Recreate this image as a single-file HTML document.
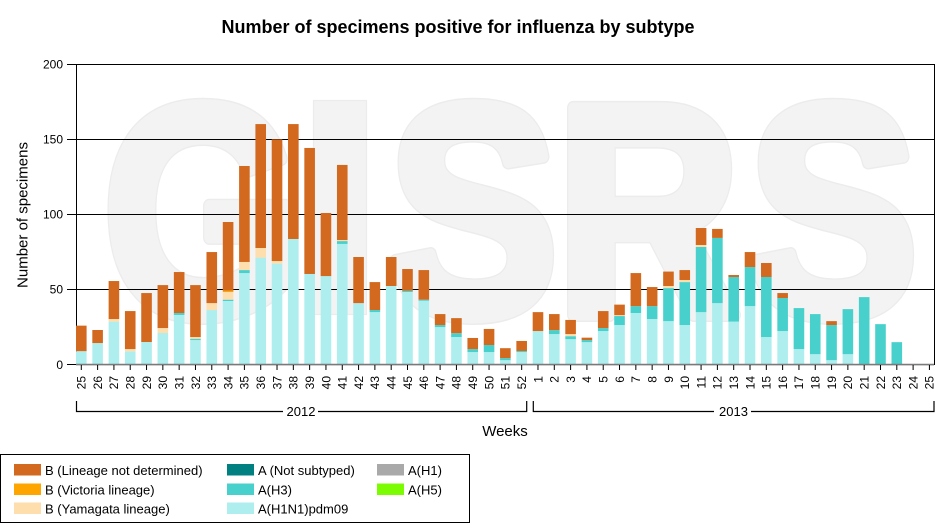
<!DOCTYPE html>
<html><head><meta charset="utf-8"><style>
html,body{margin:0;padding:0;background:#fff;}
svg{display:block;font-family:"Liberation Sans",Arial,sans-serif;}
.a{fill:#AFEEEE}.h{fill:#48D1CC}.y{fill:#FFDEAD}.v{fill:#FFA500}.b{fill:#D2691E}
.tl{font-size:12px;fill:#000;text-anchor:end}
</style></head><body>
<svg width="935" height="529" viewBox="0 0 935 529" xmlns="http://www.w3.org/2000/svg">
<rect width="935" height="529" fill="#fff"/>
<!-- watermark -->
<g transform="scale(1,1.18)" font-weight="bold" font-size="255" fill="#ececec" stroke="#ececec" stroke-width="12" stroke-linejoin="round">
<text x="103" y="266.9">G</text>
<text x="388" y="266.9">S</text>
<text x="556" y="266.9">R</text>
<text x="748" y="266.9">S</text>
</g>
<g transform="scale(1,1.18)" font-weight="bold" font-size="255" fill="#f3f3f3" stroke="#f3f3f3" stroke-width="9.5" stroke-linejoin="round">
<text x="103" y="266.9">G</text>
<text x="388" y="266.9">S</text>
<text x="556" y="266.9">R</text>
<text x="748" y="266.9">S</text>
</g>
<rect x="313.5" y="100.5" width="53" height="214" fill="#f3f3f3" stroke="#ececec" stroke-width="1.2"/>
<!-- title -->
<text x="458" y="33" font-size="18" font-weight="bold" text-anchor="middle" fill="#000">Number of specimens positive for influenza by subtype</text>
<!-- grid -->
<g stroke="#000" stroke-width="1" shape-rendering="crispEdges">
<line x1="67" y1="64.5" x2="934" y2="64.5"/>
<line x1="67" y1="139.5" x2="934" y2="139.5"/>
<line x1="67" y1="214.5" x2="934" y2="214.5"/>
<line x1="67" y1="289.5" x2="934" y2="289.5"/>
<line x1="67" y1="364.5" x2="76" y2="364.5"/>
<line x1="76.5" y1="64" x2="76.5" y2="365"/>
<line x1="934.5" y1="64" x2="934.5" y2="365"/>
</g>
<g font-size="12" text-anchor="end" fill="#000">
<text x="63" y="68.5">200</text>
<text x="63" y="143.5">150</text>
<text x="63" y="218.5">100</text>
<text x="63" y="293.5">50</text>
<text x="63" y="369">0</text>
</g>
<text transform="translate(27.5,215) rotate(-90)" font-size="15" text-anchor="middle" fill="#000">Number of specimens</text>
<!-- bars -->
<g transform="translate(0,364.7) scale(1,-1.502)">
<rect class="a" x="76.0" y="0" width="10.6" height="9"/><rect class="b" x="76.0" y="9" width="10.6" height="17"/>
<rect class="a" x="92.31" y="0" width="10.6" height="14.4"/><rect class="b" x="92.31" y="14.4" width="10.6" height="8.7"/>
<rect class="a" x="108.62" y="0" width="10.6" height="28.7"/><rect class="y" x="108.62" y="28.7" width="10.6" height="1.7"/><rect class="b" x="108.62" y="30.4" width="10.6" height="25.3"/>
<rect class="a" x="124.93" y="0" width="10.6" height="8.9"/><rect class="y" x="124.93" y="8.9" width="10.6" height="1.5"/><rect class="b" x="124.93" y="10.4" width="10.6" height="25.3"/>
<rect class="a" x="141.24" y="0" width="10.6" height="15.1"/><rect class="b" x="141.24" y="15.1" width="10.6" height="32.6"/>
<rect class="a" x="157.55" y="0" width="10.6" height="21.1"/><rect class="y" x="157.55" y="21.1" width="10.6" height="3.3"/><rect class="b" x="157.55" y="24.4" width="10.6" height="28.6"/>
<rect class="a" x="173.86" y="0" width="10.6" height="33.1"/><rect class="h" x="173.86" y="33.1" width="10.6" height="1.3"/><rect class="b" x="173.86" y="34.4" width="10.6" height="27.3"/>
<rect class="a" x="190.17" y="0" width="10.6" height="16.4"/><rect class="h" x="190.17" y="16.4" width="10.6" height="0.9"/><rect class="y" x="190.17" y="17.3" width="10.6" height="1.1"/><rect class="b" x="190.17" y="18.4" width="10.6" height="34.6"/>
<rect class="a" x="206.48" y="0" width="10.6" height="36.4"/><rect class="y" x="206.48" y="36.4" width="10.6" height="4.6"/><rect class="b" x="206.48" y="41" width="10.6" height="34"/>
<rect class="a" x="222.79" y="0" width="10.6" height="42.4"/><rect class="h" x="222.79" y="42.4" width="10.6" height="0.9"/><rect class="y" x="222.79" y="43.3" width="10.6" height="5.1"/><rect class="v" x="222.79" y="48.4" width="10.6" height="0.9"/><rect class="b" x="222.79" y="49.3" width="10.6" height="45.7"/>
<rect class="a" x="239.1" y="0" width="10.6" height="61"/><rect class="h" x="239.1" y="61" width="10.6" height="2"/><rect class="y" x="239.1" y="63" width="10.6" height="5.4"/><rect class="b" x="239.1" y="68.4" width="10.6" height="63.9"/>
<rect class="a" x="255.41" y="0" width="10.6" height="71.3"/><rect class="y" x="255.41" y="71.3" width="10.6" height="6.4"/><rect class="b" x="255.41" y="77.7" width="10.6" height="82.5"/>
<rect class="a" x="271.72" y="0" width="10.6" height="67.3"/><rect class="y" x="271.72" y="67.3" width="10.6" height="1.7"/><rect class="b" x="271.72" y="69" width="10.6" height="81"/>
<rect class="a" x="288.03" y="0" width="10.6" height="83.7"/><rect class="b" x="288.03" y="83.7" width="10.6" height="76.5"/>
<rect class="a" x="304.34" y="0" width="10.6" height="60.4"/><rect class="b" x="304.34" y="60.4" width="10.6" height="83.9"/>
<rect class="a" x="320.65" y="0" width="10.6" height="59"/><rect class="b" x="320.65" y="59" width="10.6" height="42"/>
<rect class="a" x="336.96" y="0" width="10.6" height="80.4"/><rect class="h" x="336.96" y="80.4" width="10.6" height="1.9"/><rect class="y" x="336.96" y="82.3" width="10.6" height="0.7"/><rect class="b" x="336.96" y="83" width="10.6" height="50"/>
<rect class="a" x="353.27" y="0" width="10.6" height="41"/><rect class="b" x="353.27" y="41" width="10.6" height="30.7"/>
<rect class="a" x="369.58" y="0" width="10.6" height="35"/><rect class="h" x="369.58" y="35" width="10.6" height="1.4"/><rect class="b" x="369.58" y="36.4" width="10.6" height="18.6"/>
<rect class="a" x="385.89" y="0" width="10.6" height="52.4"/><rect class="b" x="385.89" y="52.4" width="10.6" height="19.3"/>
<rect class="a" x="402.2" y="0" width="10.6" height="48.4"/><rect class="h" x="402.2" y="48.4" width="10.6" height="0.8"/><rect class="b" x="402.2" y="49.2" width="10.6" height="14.5"/>
<rect class="a" x="418.51" y="0" width="10.6" height="42.6"/><rect class="h" x="418.51" y="42.6" width="10.6" height="0.7"/><rect class="b" x="418.51" y="43.3" width="10.6" height="19.7"/>
<rect class="a" x="434.82" y="0" width="10.6" height="25"/><rect class="h" x="434.82" y="25" width="10.6" height="1.4"/><rect class="b" x="434.82" y="26.4" width="10.6" height="7.3"/>
<rect class="a" x="451.13" y="0" width="10.6" height="18.4"/><rect class="h" x="451.13" y="18.4" width="10.6" height="2.6"/><rect class="b" x="451.13" y="21" width="10.6" height="10"/>
<rect class="a" x="467.44" y="0" width="10.6" height="8.4"/><rect class="h" x="467.44" y="8.4" width="10.6" height="2"/><rect class="b" x="467.44" y="10.4" width="10.6" height="7.4"/>
<rect class="a" x="483.75" y="0" width="10.6" height="8.4"/><rect class="h" x="483.75" y="8.4" width="10.6" height="4.7"/><rect class="b" x="483.75" y="13.1" width="10.6" height="10.7"/>
<rect class="a" x="500.06" y="0" width="10.6" height="3"/><rect class="h" x="500.06" y="3" width="10.6" height="1.4"/><rect class="b" x="500.06" y="4.4" width="10.6" height="6.6"/>
<rect class="a" x="516.37" y="0" width="10.6" height="8.4"/><rect class="h" x="516.37" y="8.4" width="10.6" height="0.7"/><rect class="b" x="516.37" y="9.1" width="10.6" height="6.7"/>
<rect class="a" x="532.68" y="0" width="10.6" height="22.4"/><rect class="b" x="532.68" y="22.4" width="10.6" height="12.6"/>
<rect class="a" x="548.99" y="0" width="10.6" height="20.4"/><rect class="h" x="548.99" y="20.4" width="10.6" height="2.6"/><rect class="b" x="548.99" y="23" width="10.6" height="10.7"/>
<rect class="a" x="565.3" y="0" width="10.6" height="17"/><rect class="h" x="565.3" y="17" width="10.6" height="2"/><rect class="y" x="565.3" y="19" width="10.6" height="1.4"/><rect class="b" x="565.3" y="20.4" width="10.6" height="9.4"/>
<rect class="a" x="581.61" y="0" width="10.6" height="15"/><rect class="h" x="581.61" y="15" width="10.6" height="1.4"/><rect class="b" x="581.61" y="16.4" width="10.6" height="1.6"/>
<rect class="a" x="597.92" y="0" width="10.6" height="22.4"/><rect class="h" x="597.92" y="22.4" width="10.6" height="2"/><rect class="b" x="597.92" y="24.4" width="10.6" height="11.3"/>
<rect class="a" x="614.23" y="0" width="10.6" height="26.4"/><rect class="h" x="614.23" y="26.4" width="10.6" height="6"/><rect class="y" x="614.23" y="32.4" width="10.6" height="0.6"/><rect class="b" x="614.23" y="33" width="10.6" height="7"/>
<rect class="a" x="630.54" y="0" width="10.6" height="34.4"/><rect class="h" x="630.54" y="34.4" width="10.6" height="4.6"/><rect class="b" x="630.54" y="39" width="10.6" height="22"/>
<rect class="a" x="646.85" y="0" width="10.6" height="30.4"/><rect class="h" x="646.85" y="30.4" width="10.6" height="8.6"/><rect class="b" x="646.85" y="39" width="10.6" height="12.7"/>
<rect class="a" x="663.16" y="0" width="10.6" height="29"/><rect class="h" x="663.16" y="29" width="10.6" height="22"/><rect class="y" x="663.16" y="51" width="10.6" height="1.4"/><rect class="b" x="663.16" y="52.4" width="10.6" height="9.6"/>
<rect class="a" x="679.47" y="0" width="10.6" height="26.4"/><rect class="h" x="679.47" y="26.4" width="10.6" height="28.6"/><rect class="y" x="679.47" y="55" width="10.6" height="1.4"/><rect class="b" x="679.47" y="56.4" width="10.6" height="6.6"/>
<rect class="a" x="695.78" y="0" width="10.6" height="35"/><rect class="h" x="695.78" y="35" width="10.6" height="43.4"/><rect class="y" x="695.78" y="78.4" width="10.6" height="1.3"/><rect class="b" x="695.78" y="79.7" width="10.6" height="11.3"/>
<rect class="a" x="712.09" y="0" width="10.6" height="41"/><rect class="h" x="712.09" y="41" width="10.6" height="43.4"/><rect class="b" x="712.09" y="84.4" width="10.6" height="6"/>
<rect class="a" x="728.4" y="0" width="10.6" height="28.7"/><rect class="h" x="728.4" y="28.7" width="10.6" height="29.7"/><rect class="b" x="728.4" y="58.4" width="10.6" height="1.3"/>
<rect class="a" x="744.71" y="0" width="10.6" height="39"/><rect class="h" x="744.71" y="39" width="10.6" height="26"/><rect class="b" x="744.71" y="65" width="10.6" height="10"/>
<rect class="a" x="761.02" y="0" width="10.6" height="18.4"/><rect class="h" x="761.02" y="18.4" width="10.6" height="40"/><rect class="b" x="761.02" y="58.4" width="10.6" height="9.3"/>
<rect class="a" x="777.33" y="0" width="10.6" height="22.4"/><rect class="h" x="777.33" y="22.4" width="10.6" height="22"/><rect class="b" x="777.33" y="44.4" width="10.6" height="3.3"/>
<rect class="a" x="793.64" y="0" width="10.6" height="10.4"/><rect class="h" x="793.64" y="10.4" width="10.6" height="27.3"/>
<rect class="a" x="809.95" y="0" width="10.6" height="7"/><rect class="h" x="809.95" y="7" width="10.6" height="26.7"/>
<rect class="a" x="826.26" y="0" width="10.6" height="3"/><rect class="h" x="826.26" y="3" width="10.6" height="23.4"/><rect class="b" x="826.26" y="26.4" width="10.6" height="2.6"/>
<rect class="a" x="842.57" y="0" width="10.6" height="7"/><rect class="h" x="842.57" y="7" width="10.6" height="30"/>
<rect class="a" x="858.88" y="0" width="10.6" height="0.5"/><rect class="h" x="858.88" y="0.5" width="10.6" height="44.5"/>
<rect class="a" x="875.19" y="0" width="10.6" height="0.5"/><rect class="h" x="875.19" y="0.5" width="10.6" height="26.5"/>
<rect class="h" x="891.5" y="0" width="10.6" height="15"/>
</g>
<!-- zero line -->
<line x1="76" y1="364.6" x2="934" y2="364.6" stroke="#7a7a7a" stroke-width="1.6"/>
<!-- x ticks -->
<path stroke="#000" stroke-width="1" fill="none" d="M81.3 365V370M97.61 365V370M113.92 365V370M130.23 365V370M146.54 365V370M162.85 365V370M179.16 365V370M195.47 365V370M211.78 365V370M228.09 365V370M244.4 365V370M260.71 365V370M277.02 365V370M293.33 365V370M309.64 365V370M325.95 365V370M342.26 365V370M358.57 365V370M374.88 365V370M391.19 365V370M407.5 365V370M423.81 365V370M440.12 365V370M456.43 365V370M472.74 365V370M489.05 365V370M505.36 365V370M521.67 365V370M537.98 365V370M554.29 365V370M570.6 365V370M586.91 365V370M603.22 365V370M619.53 365V370M635.84 365V370M652.15 365V370M668.46 365V370M684.77 365V370M701.08 365V370M717.39 365V370M733.7 365V370M750.01 365V370M766.32 365V370M782.63 365V370M798.94 365V370M815.25 365V370M831.56 365V370M847.87 365V370M864.18 365V370M880.49 365V370M896.8 365V370M913.11 365V370M929.42 365V370"/>
<!-- x tick labels -->
<g class="tl">
<text class="tl" transform="translate(85.6,376) rotate(-90)">25</text>
<text class="tl" transform="translate(101.91,376) rotate(-90)">26</text>
<text class="tl" transform="translate(118.22,376) rotate(-90)">27</text>
<text class="tl" transform="translate(134.53,376) rotate(-90)">28</text>
<text class="tl" transform="translate(150.84,376) rotate(-90)">29</text>
<text class="tl" transform="translate(167.15,376) rotate(-90)">30</text>
<text class="tl" transform="translate(183.46,376) rotate(-90)">31</text>
<text class="tl" transform="translate(199.77,376) rotate(-90)">32</text>
<text class="tl" transform="translate(216.08,376) rotate(-90)">33</text>
<text class="tl" transform="translate(232.39,376) rotate(-90)">34</text>
<text class="tl" transform="translate(248.7,376) rotate(-90)">35</text>
<text class="tl" transform="translate(265.01,376) rotate(-90)">36</text>
<text class="tl" transform="translate(281.32,376) rotate(-90)">37</text>
<text class="tl" transform="translate(297.63,376) rotate(-90)">38</text>
<text class="tl" transform="translate(313.94,376) rotate(-90)">39</text>
<text class="tl" transform="translate(330.25,376) rotate(-90)">40</text>
<text class="tl" transform="translate(346.56,376) rotate(-90)">41</text>
<text class="tl" transform="translate(362.87,376) rotate(-90)">42</text>
<text class="tl" transform="translate(379.18,376) rotate(-90)">43</text>
<text class="tl" transform="translate(395.49,376) rotate(-90)">44</text>
<text class="tl" transform="translate(411.8,376) rotate(-90)">45</text>
<text class="tl" transform="translate(428.11,376) rotate(-90)">46</text>
<text class="tl" transform="translate(444.42,376) rotate(-90)">47</text>
<text class="tl" transform="translate(460.73,376) rotate(-90)">48</text>
<text class="tl" transform="translate(477.04,376) rotate(-90)">49</text>
<text class="tl" transform="translate(493.35,376) rotate(-90)">50</text>
<text class="tl" transform="translate(509.66,376) rotate(-90)">51</text>
<text class="tl" transform="translate(525.97,376) rotate(-90)">52</text>
<text class="tl" transform="translate(542.28,376) rotate(-90)">1</text>
<text class="tl" transform="translate(558.59,376) rotate(-90)">2</text>
<text class="tl" transform="translate(574.9,376) rotate(-90)">3</text>
<text class="tl" transform="translate(591.21,376) rotate(-90)">4</text>
<text class="tl" transform="translate(607.52,376) rotate(-90)">5</text>
<text class="tl" transform="translate(623.83,376) rotate(-90)">6</text>
<text class="tl" transform="translate(640.14,376) rotate(-90)">7</text>
<text class="tl" transform="translate(656.45,376) rotate(-90)">8</text>
<text class="tl" transform="translate(672.76,376) rotate(-90)">9</text>
<text class="tl" transform="translate(689.07,376) rotate(-90)">10</text>
<text class="tl" transform="translate(705.38,376) rotate(-90)">11</text>
<text class="tl" transform="translate(721.69,376) rotate(-90)">12</text>
<text class="tl" transform="translate(738.0,376) rotate(-90)">13</text>
<text class="tl" transform="translate(754.31,376) rotate(-90)">14</text>
<text class="tl" transform="translate(770.62,376) rotate(-90)">15</text>
<text class="tl" transform="translate(786.93,376) rotate(-90)">16</text>
<text class="tl" transform="translate(803.24,376) rotate(-90)">17</text>
<text class="tl" transform="translate(819.55,376) rotate(-90)">18</text>
<text class="tl" transform="translate(835.86,376) rotate(-90)">19</text>
<text class="tl" transform="translate(852.17,376) rotate(-90)">20</text>
<text class="tl" transform="translate(868.48,376) rotate(-90)">21</text>
<text class="tl" transform="translate(884.79,376) rotate(-90)">22</text>
<text class="tl" transform="translate(901.1,376) rotate(-90)">23</text>
<text class="tl" transform="translate(917.41,376) rotate(-90)">24</text>
<text class="tl" transform="translate(933.72,376) rotate(-90)">25</text>
</g>
<!-- year brackets -->
<path stroke="#000" stroke-width="1.2" fill="none" d="M76.5 401V411.5H283M318 411.5H526.7V401M533.3 401V411.5H714M751 411.5H934V401"/>
<g font-size="13" text-anchor="middle" fill="#000">
<text x="301" y="416">2012</text>
<text x="733.5" y="416">2013</text>
</g>
<text x="505" y="436" font-size="15" text-anchor="middle" fill="#000">Weeks</text>
<!-- legend -->
<rect x="0.5" y="454.5" width="469" height="68" fill="#fff" stroke="#000" stroke-width="1"/>
<rect x="14" y="464" width="27" height="11.5" fill="#D2691E"/>
<rect x="14" y="483.5" width="27" height="11.5" fill="#FFA500"/>
<rect x="14" y="502.5" width="27" height="11.5" fill="#FFDEAD"/>
<rect x="227" y="464" width="27" height="11.5" fill="#008080"/>
<rect x="227" y="483.5" width="27" height="11.5" fill="#48D1CC"/>
<rect x="227" y="502.5" width="27" height="11.5" fill="#AFEEEE"/>
<rect x="377" y="464" width="27" height="11.5" fill="#A9A9A9"/>
<rect x="377" y="483.5" width="27" height="11.5" fill="#7CFC00"/>
<g font-size="13" fill="#000">
<text x="45" y="475">B (Lineage not determined)</text>
<text x="45" y="494.5">B (Victoria lineage)</text>
<text x="45" y="513.5">B (Yamagata lineage)</text>
<text x="258" y="475">A (Not subtyped)</text>
<text x="258" y="494.5">A(H3)</text>
<text x="258" y="513.5">A(H1N1)pdm09</text>
<text x="408" y="475">A(H1)</text>
<text x="408" y="494.5">A(H5)</text>
</g>
</svg>
</body></html>
